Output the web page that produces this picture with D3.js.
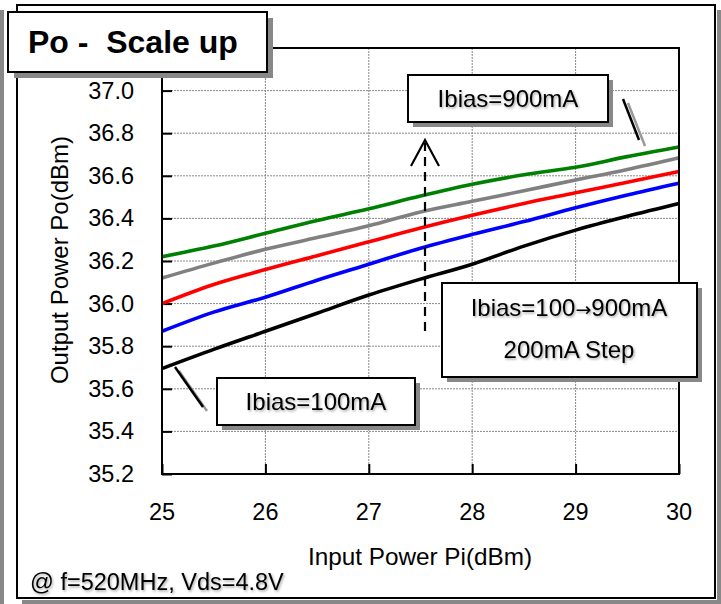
<!DOCTYPE html>
<html>
<head>
<meta charset="utf-8">
<script src="https://cdn.jsdelivr.net/npm/d3@7"></script>
<style>
  html, body { margin: 0; padding: 0; background: #fff; }
  svg { display: block; font-family: "Liberation Sans", Arial, sans-serif; }
</style>
</head>
<body>
<svg id="chart" width="721" height="604"></svg>
<script>
// Input power sweep (dBm)
const inputPower = [25, 25.5, 26, 26.5, 27, 27.5, 28, 28.5, 29, 29.5, 30];

// Output power (dBm) for each bias current
const po100mA = [35.695, 35.785, 35.87, 35.955, 36.04, 36.115, 36.185, 36.27, 36.345, 36.41, 36.47];
const po300mA = [35.87, 35.96, 36.03, 36.11, 36.185, 36.26, 36.325, 36.385, 36.45, 36.51, 36.565];
const po500mA = [36.00, 36.09, 36.16, 36.225, 36.29, 36.355, 36.415, 36.47, 36.52, 36.57, 36.62];
const po700mA = [36.12, 36.19, 36.255, 36.31, 36.365, 36.43, 36.48, 36.53, 36.58, 36.63, 36.685];
const po900mA = [36.22, 36.27, 36.33, 36.39, 36.445, 36.505, 36.56, 36.605, 36.64, 36.69, 36.735];

const seriesNames = ["100mA", "300mA", "500mA", "700mA", "900mA"];
const seriesColors = ["#000000", "#0000ff", "#ff0000", "#808080", "#008000"];

const xTicks = [25, 26, 27, 28, 29, 30];
const yTicks = [35.2, 35.4, 35.6, 35.8, 36.0, 36.2, 36.4, 36.6, 36.8, 37.0, 37.2];

const series = [po100mA, po300mA, po500mA, po700mA, po900mA].map((vals, i) => ({
  name: seriesNames[i],
  color: seriesColors[i],
  points: vals.map((v, j) => ({ x: inputPower[j], y: v }))
}));

const svg = d3.select("#chart");
const plot = { left: 162, right: 679, top: 48, bottom: 474 };

const x = d3.scaleLinear().domain([25, 30]).range([plot.left, plot.right]);
const y = d3.scaleLinear().domain([35.2, 37.2]).range([plot.bottom, plot.top]);

// Soft shadow used on annotation text
const defs = svg.append("defs");
const f = defs.append("filter").attr("id", "txtShadow")
  .attr("x", "-10%").attr("y", "-30%").attr("width", "120%").attr("height", "160%");
f.append("feDropShadow").attr("dx", 1.2).attr("dy", 1.5).attr("stdDeviation", 0.9)
  .attr("flood-color", "#000").attr("flood-opacity", 0.35);

// Outer frame with shadow
svg.append("rect").attr("x", 0).attr("y", 10).attr("width", 4).attr("height", 594).attr("fill", "#888");
svg.append("rect").attr("x", 717).attr("y", 10).attr("width", 4).attr("height", 594).attr("fill", "#888");
svg.append("rect").attr("x", 22).attr("y", 600).attr("width", 699).attr("height", 4).attr("fill", "#888");
svg.append("rect").attr("x", 17).attr("y", 5).attr("width", 698).attr("height", 593)
  .attr("fill", "#fff").attr("stroke", "#000").attr("stroke-width", 2);

// Grid
const grid = svg.append("g");
grid.selectAll(".gx").data(xTicks.slice(1, -1)).join("line")
  .attr("x1", d => x(d)).attr("x2", d => x(d))
  .attr("y1", plot.top).attr("y2", plot.bottom)
  .attr("stroke", "#888").attr("stroke-width", 1).attr("stroke-dasharray", "2,1");
grid.selectAll(".gy").data(yTicks.slice(1, -1)).join("line")
  .attr("x1", plot.left).attr("x2", plot.right)
  .attr("y1", d => y(d)).attr("y2", d => y(d))
  .attr("stroke", "#888").attr("stroke-width", 1).attr("stroke-dasharray", "2,1");

// Axes: ticks point inward, labels drawn separately
const xAxis = svg.append("g").attr("transform", `translate(0,${plot.bottom})`)
  .call(d3.axisTop(x).tickValues(xTicks).tickSize(10).tickFormat(""));
const yAxis = svg.append("g").attr("transform", `translate(${plot.left},0)`)
  .call(d3.axisRight(y).tickValues(yTicks.slice(0, -1)).tickSize(10).tickFormat(""));
[xAxis, yAxis].forEach(a => {
  a.select(".domain").remove();
  a.selectAll("line").attr("stroke", "#000").attr("stroke-width", 2);
});

// Series lines
const line = d3.line().x(d => x(d.x)).y(d => y(d.y)).curve(d3.curveMonotoneX);
svg.append("g").selectAll("path").data(series).join("path")
  .attr("d", d => line(d.points))
  .attr("fill", "none").attr("stroke", d => d.color)
  .attr("stroke-width", 3.6).attr("stroke-linejoin", "round");

// Plot frame
svg.append("rect").attr("x", plot.left).attr("y", plot.top)
  .attr("width", plot.right - plot.left).attr("height", plot.bottom - plot.top)
  .attr("fill", "none").attr("stroke", "#000").attr("stroke-width", 2);

// Tick labels
svg.append("g").selectAll("text").data(xTicks).join("text")
  .attr("x", d => x(d)).attr("y", 520).attr("text-anchor", "middle")
  .attr("font-size", 23.5).attr("fill", "#000").text(d => d);
svg.append("g").selectAll("text").data(yTicks.slice(0, -1)).join("text")
  .attr("x", 134).attr("y", d => y(d) + 8).attr("text-anchor", "end")
  .attr("font-size", 23.5).attr("fill", "#000").text(d => d3.format(".1f")(d));

// Axis titles
svg.append("text").attr("x", 420).attr("y", 565).attr("text-anchor", "middle")
  .attr("font-size", 24.3).attr("fill", "#000").text("Input Power Pi(dBm)");
svg.append("text").attr("transform", "translate(68,260) rotate(-90)").attr("text-anchor", "middle")
  .attr("font-size", 24).attr("fill", "#000").text("Output Power Po(dBm)");

// Measurement condition
svg.append("text").attr("x", 30).attr("y", 590).attr("font-size", 23.5).attr("fill", "#000")
  .attr("filter", "url(#txtShadow)").text("@ f=520MHz, Vds=4.8V");

// Boxed label helper
function box(x0, y0, w, h, off) {
  svg.append("rect").attr("x", x0 + off).attr("y", y0 + off).attr("width", w).attr("height", h).attr("fill", "#888");
  svg.append("rect").attr("x", x0).attr("y", y0).attr("width", w).attr("height", h)
    .attr("fill", "#fff").attr("stroke", "#000").attr("stroke-width", 2);
}

// Bias step arrow
svg.append("line").attr("x1", 425).attr("x2", 425).attr("y1", 331).attr("y2", 143)
  .attr("stroke", "#000").attr("stroke-width", 2.2).attr("stroke-dasharray", "9,6");
svg.append("path").attr("d", "M411,166 L425,140 L439,166")
  .attr("fill", "none").attr("stroke", "#000").attr("stroke-width", 2.2);

// Leader lines
svg.append("line").attr("x1", 628).attr("y1", 103).attr("x2", 645).attr("y2", 146)
  .attr("stroke", "#999").attr("stroke-width", 2.5);
svg.append("line").attr("x1", 623).attr("y1", 99).attr("x2", 639).attr("y2", 140)
  .attr("stroke", "#000").attr("stroke-width", 2.5);
svg.append("line").attr("x1", 179).attr("y1", 371).attr("x2", 207).attr("y2", 411)
  .attr("stroke", "#999").attr("stroke-width", 2.5);
svg.append("line").attr("x1", 175).attr("y1", 367).attr("x2", 203).attr("y2", 407)
  .attr("stroke", "#000").attr("stroke-width", 2.5);

// Title
box(8, 12, 259, 60, 6);
svg.append("text").attr("x", 28).attr("y", 53).attr("font-size", 32).attr("font-weight", "bold")
  .attr("fill", "#000").attr("xml:space", "preserve").style("white-space", "pre").text("Po -  Scale up");

// Annotation boxes
box(408, 75, 200, 47, 5);
svg.append("text").attr("x", 508).attr("y", 107).attr("text-anchor", "middle").attr("font-size", 24)
  .attr("filter", "url(#txtShadow)").text("Ibias=900mA");

box(217, 378, 198, 47, 5);
svg.append("text").attr("x", 316).attr("y", 410).attr("text-anchor", "middle").attr("font-size", 24)
  .attr("filter", "url(#txtShadow)").text("Ibias=100mA");

box(442, 283, 255, 94, 5);
const rangeLabel = svg.append("text").attr("x", 569).attr("y", 316).attr("text-anchor", "middle")
  .attr("font-size", 24).attr("filter", "url(#txtShadow)");
rangeLabel.append("tspan").text("Ibias=100");
rangeLabel.append("tspan").attr("font-family", "DejaVu Sans").attr("font-size", 19).text("\u2192");
rangeLabel.append("tspan").text("900mA");
svg.append("text").attr("x", 569).attr("y", 358).attr("text-anchor", "middle").attr("font-size", 24)
  .attr("filter", "url(#txtShadow)").text("200mA Step");
</script>
</body>
</html>
